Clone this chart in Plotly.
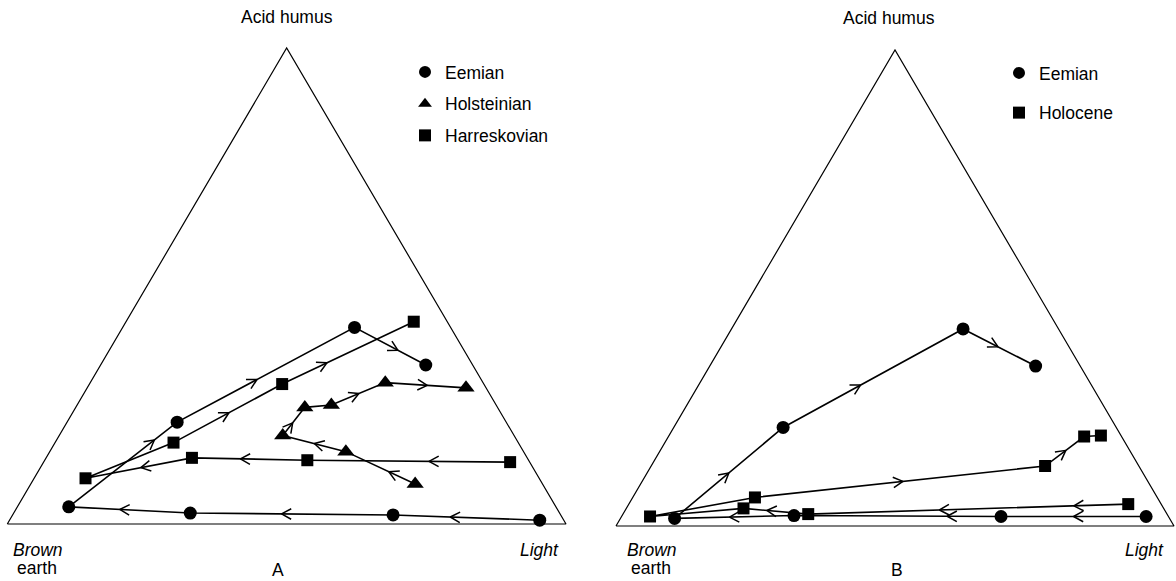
import math
import plotly.graph_objects as go

# ---------------- data: composition in percent (acid humus, brown earth, light) ----------------
# Panel A
eemian_a_acid = [0.8, 1.9, 2.3, 3.6, 21.4, 41.3, 33.4]
eemian_a_brown = [4.3, 30.0, 66.1, 87.2, 58.9, 17.2, 8.4]
eemian_a_light = [94.9, 68.1, 31.6, 9.2, 19.7, 41.5, 58.2]

holstein_a_acid = [8.4, 15.2, 18.6, 24.5, 25.0, 29.7, 28.6]
holstein_a_brown = [22.8, 31.8, 41.4, 34.5, 29.5, 17.5, 3.6]
holstein_a_light = [68.8, 53.0, 40.0, 41.0, 45.5, 52.8, 67.8]

harresk_a_acid = [13.0, 13.4, 13.9, 9.6, 17.1, 29.4, 42.5]
harresk_a_brown = [3.5, 39.6, 60.0, 81.2, 61.7, 36.1, 6.0]
harresk_a_light = [83.5, 47.0, 26.1, 9.2, 21.2, 34.5, 51.5]

# Panel B
eemian_b_acid = [2.0, 2.0, 2.2, 1.6, 20.7, 41.4, 33.6]
eemian_b_brown = [4.0, 30.0, 67.0, 88.7, 59.7, 17.1, 8.0]
eemian_b_light = [94.0, 68.0, 30.8, 9.7, 19.6, 41.5, 58.4]

holocene_b_acid = [4.6, 2.5, 3.7, 2.0, 6.0, 12.6, 18.8, 19.0]
holocene_b_brown = [5.9, 64.3, 75.3, 92.9, 72.1, 16.8, 6.7, 3.6]
holocene_b_light = [89.5, 33.2, 21.0, 5.1, 21.9, 70.6, 74.5, 77.4]

# direction arrows: (segment index, position along segment)
eemian_a_arrows = [(0, 0.61), (1, 0.55), (2, 0.58), (3, 0.79), (4, 0.45), (5, 0.61)]
holstein_a_arrows = [(0, 0.38), (1, 0.50), (2, 0.45), (4, 0.51), (5, 0.52)]
harresk_a_arrows = [(0, 0.40), (1, 0.58), (2, 0.48), (4, 0.51), (5, 0.34)]
eemian_b_arrows = [(0, 0.50), (1, 0.26), (2, 0.54), (3, 0.50), (4, 0.43), (5, 0.48)]
holocene_b_arrows = [(0, 0.17), (0, 0.59), (1, 0.64), (4, 0.51), (5, 0.53)]

corner_labels = ["Acid humus", "Brown", "earth", "Light"]
panel_labels = ["A", "B"]

# ---------------- layout geometry (pixels) ----------------
FW, FH = 1176, 581
FONT = "Liberation Sans, Arial, Helvetica, sans-serif"
FSIZE = 17.5
panels = {
    "A": dict(x0=7.3, x1=566.0, ybase=524.0, yapex=48.0, dom=[0.0, 0.5]),
    "B": dict(x0=616.0, x1=1174.0, ybase=526.0, yapex=50.0, dom=[0.5, 1.0]),
}


def to_xy(acid, brown, light):
    xs, ys = [], []
    for a, b, l in zip(acid, brown, light):
        tot = a + b + l
        y = a / tot
        xs.append(l / tot + y / 2.0)
        ys.append(y)
    return xs, ys


def chevrons(xs, ys, arrows, kx, ky, length=11.0, half=0.50):
    cx, cy = [], []
    for seg, f in arrows:
        px, py = xs[seg] * kx, ys[seg] * ky
        qx, qy = xs[seg + 1] * kx, ys[seg + 1] * ky
        dx, dy = qx - px, qy - py
        d = math.hypot(dx, dy)
        ux, uy = dx / d, dy / d
        tx, ty = px + f * dx, py + f * dy
        wing = []
        for s in (1, -1):
            c, sn = math.cos(s * half), math.sin(s * half)
            wing.append((ux * c - uy * sn, ux * sn + uy * c))
        cx += [(tx - length * wing[0][0]) / kx, tx / kx, (tx - length * wing[1][0]) / kx, None]
        cy += [(ty - length * wing[0][1]) / ky, ty / ky, (ty - length * wing[1][1]) / ky, None]
    return cx, cy


fig = go.Figure()

series = {
    "A": [
        ("Eemian", "circle", 13, eemian_a_acid, eemian_a_brown, eemian_a_light, eemian_a_arrows),
        ("Holsteinian", "triangle-up", 15, holstein_a_acid, holstein_a_brown, holstein_a_light, holstein_a_arrows),
        ("Harreskovian", "square", 12, harresk_a_acid, harresk_a_brown, harresk_a_light, harresk_a_arrows),
    ],
    "B": [
        ("Eemian", "circle", 13, eemian_b_acid, eemian_b_brown, eemian_b_light, eemian_b_arrows),
        ("Holocene", "square", 12, holocene_b_acid, holocene_b_brown, holocene_b_light, holocene_b_arrows),
    ],
}

annotations = []
layout_axes = {}
for i, (pname, g) in enumerate(panels.items()):
    suffix = "" if i == 0 else str(i + 1)
    xa, ya = "x" + suffix, "y" + suffix
    kx = g["x1"] - g["x0"]
    ky = g["ybase"] - g["yapex"]
    dom_px = [g["dom"][0] * FW, g["dom"][1] * FW]
    xr = [(dom_px[0] - g["x0"]) / kx, (dom_px[1] - g["x0"]) / kx]
    yr = [-(FH - g["ybase"]) / ky, g["ybase"] / ky]
    ax_common = dict(visible=False, showgrid=False, zeroline=False, fixedrange=True)
    layout_axes["xaxis" + suffix] = dict(domain=g["dom"], range=xr, anchor=ya, **ax_common)
    layout_axes["yaxis" + suffix] = dict(domain=[0, 1], range=yr, anchor=xa, **ax_common)

    # triangle outline from the corner compositions
    tx, ty = to_xy([0, 0, 100, 0], [100, 0, 0, 100], [0, 100, 0, 0])
    fig.add_trace(go.Scatter(x=tx, y=ty, mode="lines", line=dict(color="black", width=1.2),
                             xaxis=xa, yaxis=ya, showlegend=False, hoverinfo="skip"))

    legend_id = "legend" if i == 0 else "legend2"
    for name, sym, msize, ac, br, li, arr in series[pname]:
        xs, ys = to_xy(ac, br, li)
        fig.add_trace(go.Scatter(x=xs, y=ys, mode="lines", line=dict(color="black", width=1.6),
                                 xaxis=xa, yaxis=ya, showlegend=False, hoverinfo="skip"))
        cx, cy = chevrons(xs, ys, arr, kx, ky)
        fig.add_trace(go.Scatter(x=cx, y=cy, mode="lines", line=dict(color="black", width=1.5),
                                 xaxis=xa, yaxis=ya, showlegend=False, hoverinfo="skip"))
        fig.add_trace(go.Scatter(x=xs, y=ys, mode="markers", name=name,
                                 marker=dict(symbol=sym, size=msize, color="black", line=dict(width=0)),
                                 xaxis=xa, yaxis=ya, legend=legend_id, legendgroup=pname + name))

    if pname == "A":
        sh = dict(acid=(0, 31), brown=(31, -26), earth=(30, -44), light=(-27, -26), panel=(-9, -46))
    else:
        sh = dict(acid=(-6, 32), brown=(36, -24), earth=(35, -42), light=(-30, -24), panel=(2, -44))
    base = dict(xref=xa, yref=ya, showarrow=False, font=dict(family=FONT, size=FSIZE, color="black"),
                xanchor="center", yanchor="middle")
    annotations.append(dict(x=0.5, y=1.0, text=corner_labels[0], xshift=sh["acid"][0], yshift=sh["acid"][1], **base))
    annotations.append(dict(x=0, y=0, text="<i>" + corner_labels[1] + "</i>", xshift=sh["brown"][0], yshift=sh["brown"][1], **base))
    annotations.append(dict(x=0, y=0, text=corner_labels[2], xshift=sh["earth"][0], yshift=sh["earth"][1], **base))
    annotations.append(dict(x=1, y=0, text="<i>" + corner_labels[3] + "</i>", xshift=sh["light"][0], yshift=sh["light"][1], **base))
    annotations.append(dict(x=0.5, y=0, text=panel_labels[i], xshift=sh["panel"][0], yshift=sh["panel"][1], **base))

legend_common = dict(font=dict(family=FONT, size=FSIZE, color="black"), bgcolor="rgba(0,0,0,0)",
                     borderwidth=0, xanchor="left", yanchor="top", itemsizing="constant",
                     traceorder="grouped", itemwidth=30)
fig.update_layout(
    width=FW, height=FH,
    margin=dict(l=0, r=0, t=0, b=0),
    paper_bgcolor="white", plot_bgcolor="white",
    showlegend=True,
    legend=dict(x=405 / FW, y=1 - 54 / FH, tracegroupgap=6, **legend_common),
    legend2=dict(x=999 / FW, y=1 - 55 / FH, tracegroupgap=14, **legend_common),
    annotations=annotations,
    **layout_axes,
)

fig.write_html("out.html", config={"displayModeBar": False, "staticPlot": True},
               post_script="document.body.style.margin='0px';")
